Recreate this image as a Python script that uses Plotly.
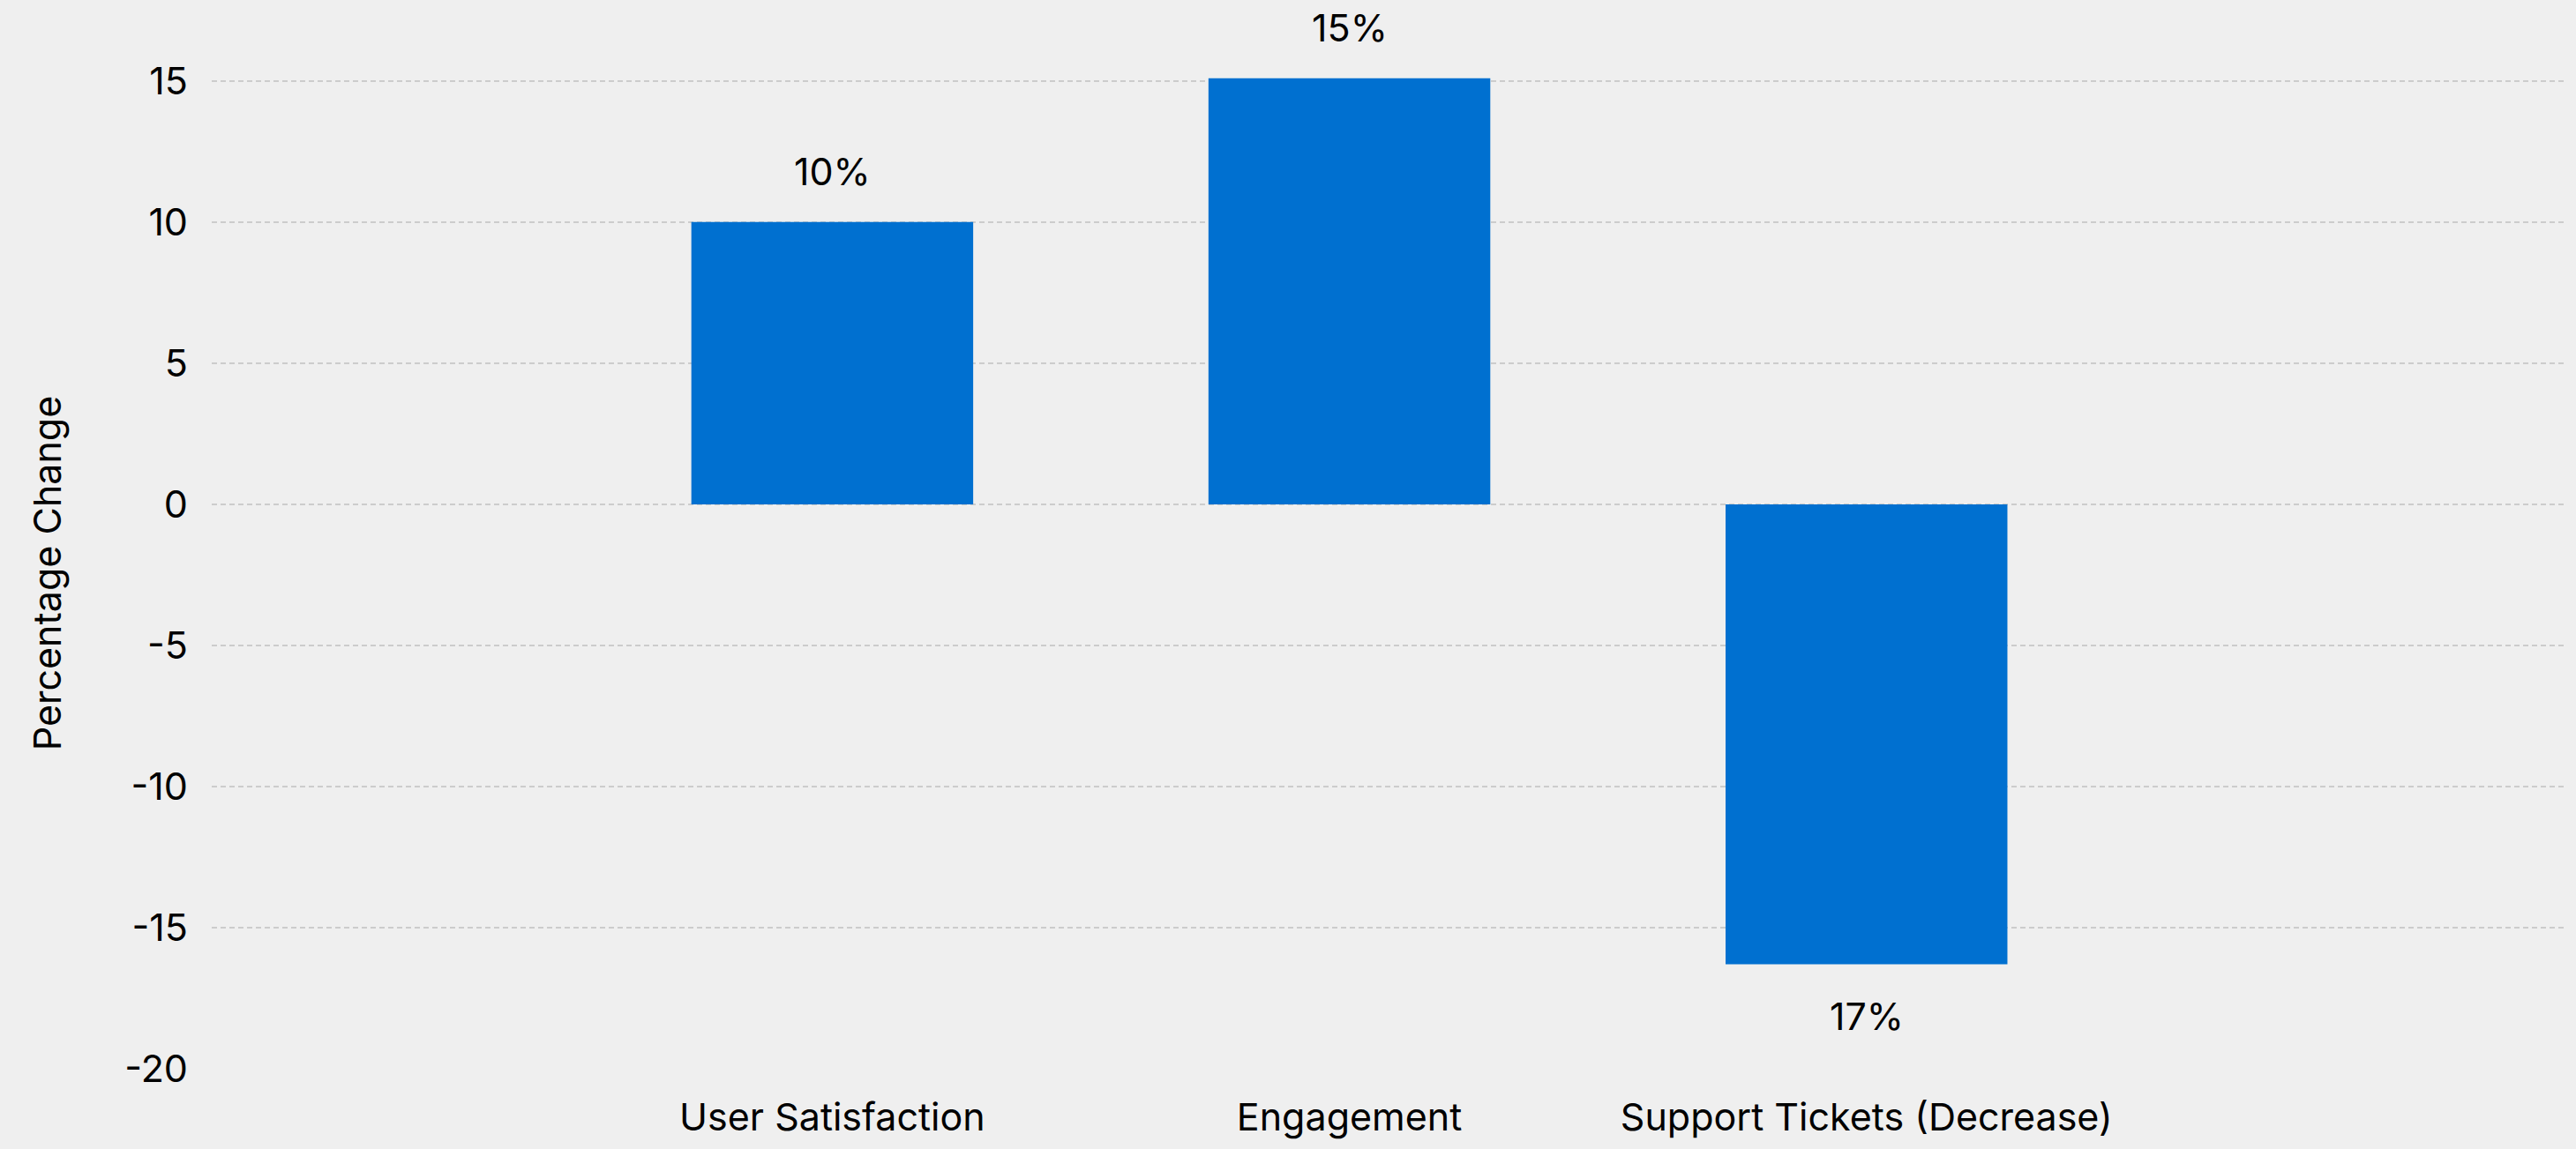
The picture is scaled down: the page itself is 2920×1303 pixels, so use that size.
import plotly.graph_objects as go

categories = ["User Satisfaction", "Engagement", "Support Tickets (Decrease)"]
values = [10.0, 15.1, -16.3]
bar_labels = ["10%", "15%", "17%"]
y_tick_vals = [-20, -15, -10, -5, 0, 5, 10, 15]
y_tick_text = ["-20", "-15", "-10", "-5", "0", "5", "10", "15"]

BG = "#efefef"
BAR = "#0070d0"
FONT = "Inter"

fig = go.Figure()
fig.add_trace(go.Bar(x=categories, y=values, marker=dict(color=BAR, line=dict(width=0)),
                     hoverinfo="skip"))

for c, v, t in zip(categories, values, bar_labels):
    fig.add_annotation(x=c, y=v, text=t, showarrow=False,
                       yanchor="bottom" if v >= 0 else "top",
                       yshift=30 if v >= 0 else -30,
                       font=dict(family=FONT, size=43, color="#000000"))

fig.update_layout(
    width=2920, height=1303,
    paper_bgcolor=BG, plot_bgcolor=BG,
    margin=dict(l=240, r=10, t=88, b=91),
    bargap=0.455,
    showlegend=False,
    font=dict(family=FONT, size=43, color="#000000"),
)
fig.update_xaxes(range=[-1.2, 3.355], showgrid=False, zeroline=False, showline=False,
                 ticks="", ticklabelstandoff=26, tickfont=dict(family=FONT, size=43, color="#000000"),
                 automargin=False)
fig.update_yaxes(range=[-20, 15.12], tickvals=y_tick_vals, ticktext=y_tick_text,
                 showgrid=True, gridcolor="#cccccc",
                 gridwidth=2, griddash="6px,4px", zeroline=False, showline=False, ticks="",
                 ticklabelstandoff=26, tickfont=dict(family=FONT, size=43, color="#000000"),
                 title=dict(text="Percentage Change", standoff=58,
                            font=dict(family=FONT, size=43, color="#000000")),
                 automargin=False)

fig.write_html("out.html", config={"displayModeBar": False},
               post_script="document.body.style.margin='0';document.body.style.background='#efefef';")
